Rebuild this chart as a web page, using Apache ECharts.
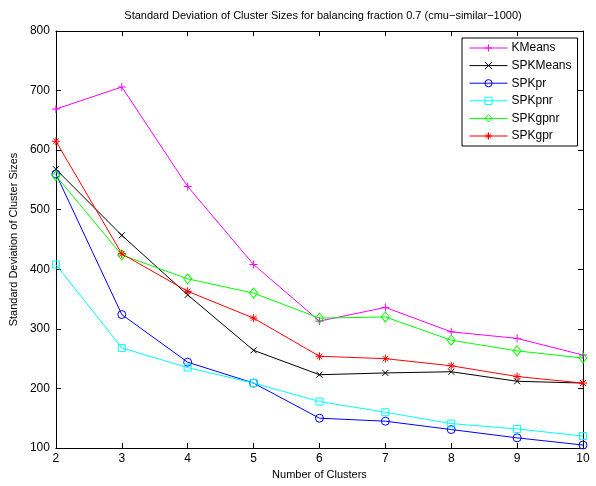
<!DOCTYPE html>
<html>
<head>
<meta charset="utf-8">
<script src="https://cdn.jsdelivr.net/npm/echarts@6/dist/echarts.min.js"></script>
<style>
  html, body { margin: 0; padding: 0; background: #fff; }
  #chart { width: 596px; height: 486px; }
</style>
</head>
<body>
<div id="chart"></div>
<script>
// Number of clusters on the x axis
const clusters = ['2', '3', '4', '5', '6', '7', '8', '9', '10'];

// Standard deviation of cluster sizes per method
const kmeans   = [669, 706, 539, 408, 313, 336, 295, 284, 256];
const spkmeans = [568, 457, 357, 264, 223, 226, 228, 212, 209];
const spkpr    = [560, 324, 244, 209, 150, 145, 131, 117, 105];
const spkpnr   = [408, 268, 235, 209, 178, 160, 141, 132, 120];
const spkgpnr  = [557, 424, 384, 360, 318, 320, 281, 263, 251];
const spkgpr   = [615, 426, 363, 318, 254, 250, 238, 220, 209];

const yTicks = [100, 200, 300, 400, 500, 600, 700, 800];

const FONT = '"Liberation Sans", Arial, Helvetica, sans-serif';

const SYM_PLUS = 'path://M5,0L5,10M0,5L10,5';
const SYM_CROSS = 'path://M0,0L10,10M10,0L0,10';
const SYM_STAR = 'path://M5,0L5,10M0,5L10,5M1.6,1.6L8.4,8.4M8.4,1.6L1.6,8.4';

const styles = [
  { name: 'KMeans',   data: kmeans,   color: '#ff00ff', symbol: SYM_PLUS,  size: 8 },
  { name: 'SPKMeans', data: spkmeans, color: '#000000', symbol: SYM_CROSS, size: 6 },
  { name: 'SPKpr',    data: spkpr,    color: '#0000ff', symbol: 'circle',  size: 8 },
  { name: 'SPKpnr',   data: spkpnr,   color: '#00ffff', symbol: 'rect',    size: 7 },
  { name: 'SPKgpnr',  data: spkgpnr,  color: '#00ff00', symbol: 'diamond', size: [8, 10] },
  { name: 'SPKgpr',   data: spkgpr,   color: '#ff0000', symbol: SYM_STAR,  size: 8 }
];

function lineSeries(s) {
  return {
    name: s.name,
    type: 'line',
    data: s.data,
    symbol: s.symbol,
    symbolSize: s.size,
    showAllSymbol: true,
    animation: false,
    lineStyle: { color: s.color, width: 1 },
    itemStyle: { color: 'rgba(0,0,0,0)', borderColor: s.color, borderWidth: 1 },
    emphasis: { disabled: true }
  };
}

function legendItem(s) {
  return {
    name: s.name,
    itemStyle: { color: 'rgba(0,0,0,0)', borderColor: s.color, borderWidth: 1 },
    lineStyle: { color: s.color, width: 1 }
  };
}

const chart = echarts.init(document.getElementById('chart'), null, { renderer: 'canvas' });

const axisCommon = {
  axisLine: { show: true, onZero: false, lineStyle: { color: '#000', width: 1 } },
  axisTick: { show: true, inside: true, length: 5, lineStyle: { color: '#000' } },
  splitLine: { show: false }
};

chart.setOption({
  backgroundColor: '#fff',
  animation: false,
  title: {
    text: 'Standard Deviation of Cluster Sizes for balancing fraction 0.7 (cmu\u2212similar\u22121000)',
    left: 318,
    textAlign: 'center',
    top: 5,
    textStyle: { fontFamily: FONT, fontSize: 11, fontWeight: 'normal', color: '#000' }
  },
  grid: { left: 52, right: 13, top: 31, bottom: 38, containLabel: false },
  legend: {
    orient: 'vertical',
    left: 462,
    top: 38,
    backgroundColor: '#fff',
    borderColor: '#000',
    borderWidth: 1,
    padding: [4, 6, 4, 7],
    itemWidth: 38,
    itemHeight: 9,
    itemGap: 5.6,
    itemStyle: { color: 'rgba(0,0,0,0)', borderWidth: 1 },
    lineStyle: { width: 1 },
    textStyle: { fontFamily: FONT, fontSize: 12, color: '#000', padding: [0, 0, 0, -1] },
    data: styles.map(legendItem)
  },
  xAxis: [
    Object.assign({}, axisCommon, {
      type: 'category',
      data: clusters,
      boundaryGap: false,
      position: 'bottom',
      name: 'Number of Clusters',
      nameLocation: 'middle',
      nameGap: 19,
      nameTextStyle: { fontFamily: FONT, fontSize: 11, color: '#000' },
      axisLabel: { fontFamily: FONT, fontSize: 12, color: '#000', margin: 5 }
    }),
    Object.assign({}, axisCommon, {
      type: 'category',
      data: clusters,
      boundaryGap: false,
      position: 'top',
      axisLabel: { show: false }
    })
  ],
  yAxis: [
    Object.assign({}, axisCommon, {
      type: 'value',
      min: yTicks[0],
      max: yTicks[yTicks.length - 1],
      interval: 100,
      position: 'left',
      name: 'Standard Deviation of Cluster Sizes',
      nameLocation: 'middle',
      nameGap: 34,
      nameTextStyle: { fontFamily: FONT, fontSize: 11, color: '#000' },
      axisLabel: { fontFamily: FONT, fontSize: 12, color: '#000', margin: 6 }
    }),
    Object.assign({}, axisCommon, {
      type: 'value',
      min: yTicks[0],
      max: yTicks[yTicks.length - 1],
      interval: 100,
      position: 'right',
      axisLabel: { show: false }
    })
  ],
  series: styles.map(lineSeries)
});
</script>
</body>
</html>
